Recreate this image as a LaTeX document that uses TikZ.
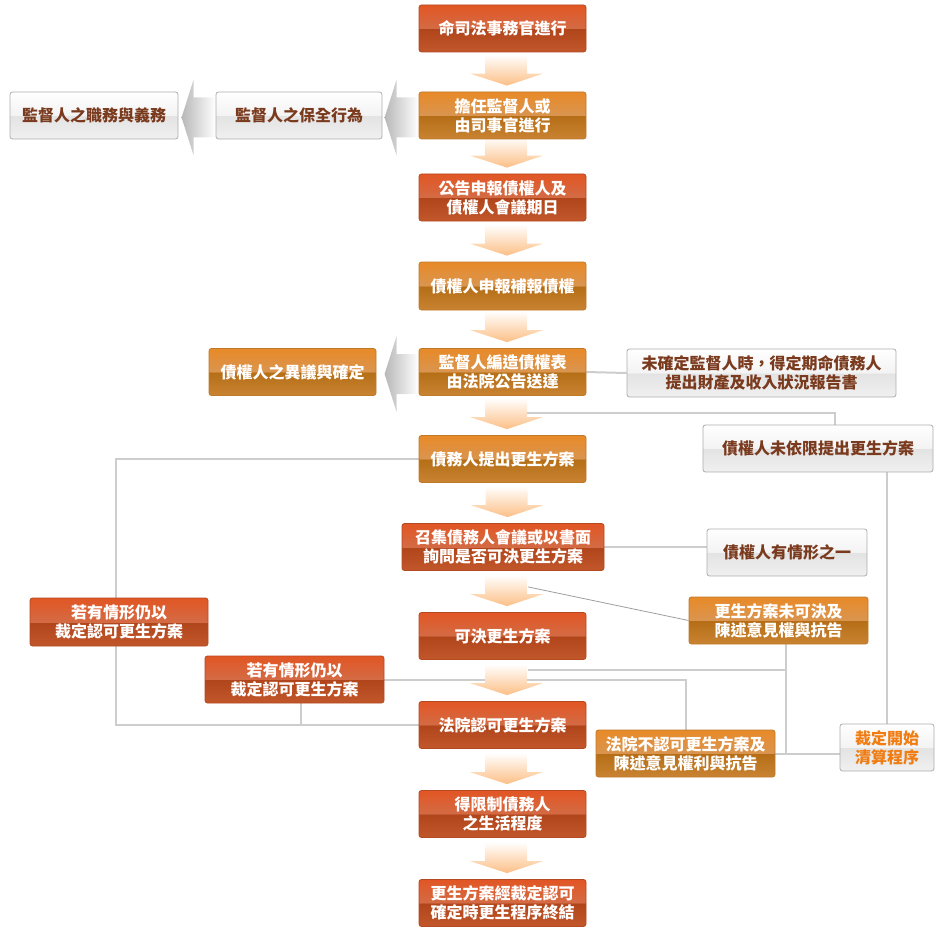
\documentclass[tikz,border=0pt]{standalone}
\usepackage{fontspec}
\newfontfamily\cjk{Noto Sans CJK TC}
\usetikzlibrary{calc, positioning}

\definecolor{redhi}{HTML}{E25624}
\definecolor{redmd}{HTML}{D36B45}
\definecolor{reddk}{HTML}{B0441A}
\definecolor{redlo}{HTML}{C2572C}
\definecolor{redbd}{HTML}{B34A22}
\definecolor{orghi}{HTML}{E88A28}
\definecolor{orgmd}{HTML}{D99550}
\definecolor{orgdk}{HTML}{B56E16}
\definecolor{orglo}{HTML}{C98332}
\definecolor{orgbd}{HTML}{BE7A2A}
\definecolor{gryhi}{HTML}{FFFFFF}
\definecolor{grymd}{HTML}{F3F3F3}
\definecolor{grydk}{HTML}{E3E3E3}
\definecolor{grylo}{HTML}{F0F0F0}
\definecolor{grybd}{HTML}{ADADAD}
\definecolor{brownt}{HTML}{7A3A1E}
\definecolor{liqt}{HTML}{F07C12}
\definecolor{linec}{HTML}{CDCDCD}
\definecolor{arrowc}{HTML}{FCBF86}

\pgfdeclareverticalshading{redgloss}{100bp}{color(0bp)=(redlo); color(25bp)=(redlo); color(49.9bp)=(reddk); color(50bp)=(redmd); color(75bp)=(redhi); color(100bp)=(redhi)}
\pgfdeclareverticalshading{orangegloss}{100bp}{color(0bp)=(orglo); color(25bp)=(orglo); color(49.9bp)=(orgdk); color(50bp)=(orgmd); color(75bp)=(orghi); color(100bp)=(orghi)}
\pgfdeclareverticalshading{graygloss}{100bp}{color(0bp)=(grylo); color(25bp)=(grylo); color(49.9bp)=(grydk); color(50bp)=(grymd); color(75bp)=(gryhi); color(100bp)=(gryhi)}

\pgfdeclarelayer{bg}
\pgfsetlayers{bg,main}

\tikzset{
  box/.style={rounded corners=2.5pt, line width=0.8pt, minimum width=167pt,
    minimum height=47pt, inner sep=0pt, align=center,
    font=\cjk\bfseries\fontsize{16}{19}\selectfont},
  redbox/.style={box, draw=redbd, shading=redgloss, text=white},
  orangebox/.style={box, draw=orgbd, shading=orangegloss, text=white},
  graybox/.style={box, draw=grybd, shading=graygloss, text=brownt},
  link/.style={draw=linec, line width=2pt},
  thinlink/.style={draw=black!38, line width=0.8pt},
  flowarrow/.style={top color=white, bottom color=arrowc},
  sidearrow/.style={left color=black!28, right color=white}
}

\begin{document}
\begin{tikzpicture}[x=1pt, y=-1pt]
  \useasboundingbox (0,0) rectangle (942,936);

  % main column
  \node[redbox] (n1) at (502.5,28.5) {命司法事務官進行};
  \node[orangebox] (n2) at (502.5,115.5) {擔任監督人或\\由司事官進行};
  \node[redbox] (n3) at (502.5,197.5) {公告申報債權人及\\債權人會議期日};
  \node[orangebox, minimum height=48pt] (n4) at (502.5,286) {債權人申報補報債權};
  \node[orangebox] (n5) at (502.5,372) {監督人編造債權表\\由法院公告送達};
  \node[orangebox] (n6) at (502.5,459) {債務人提出更生方案};
  \node[redbox, minimum width=202pt] (n7) at (503,547) {召集債務人會議或以書面\\詢問是否可決更生方案};
  \node[redbox] (n8) at (502.5,636) {可決更生方案};
  \node[redbox] (n9) at (502.5,725) {法院認可更生方案};
  \node[redbox] (n10) at (502.5,814) {得限制債務人\\之生活程度};
  \node[redbox] (n11) at (502.5,903) {更生方案經裁定認可\\確定時更生程序終結};

  % side boxes
  \node[graybox, minimum width=168pt] (duty) at (94,115.5) {監督人之職務與義務};
  \node[graybox, minimum width=166pt] (keep) at (299,115.5) {監督人之保全行為};
  \node[orangebox] (objection) at (292.5,372) {債權人之異議與確定};
  \node[graybox, minimum width=269pt, minimum height=48pt] (report) at (761.5,373) {未確定監督人時，得定期命債務人\\提出財產及收入狀況報告書};
  \node[graybox, minimum width=230pt] (nofile) at (818,448.5) {債權人未依限提出更生方案};
  \node[graybox, minimum width=160pt] (oneof) at (787,552.5) {債權人有情形之一};
  \node[orangebox, minimum width=179pt] (notpass) at (778.5,620.5) {更生方案未可決及\\陳述意見權與抗告};
  \node[redbox, minimum width=178pt, minimum height=48pt] (court1) at (119,622) {若有情形仍以\\裁定認可更生方案};
  \node[redbox, minimum width=179pt] (court2) at (294.5,679.5) {若有情形仍以\\裁定認可更生方案};
  \node[orangebox, minimum width=179pt] (reject) at (685.5,753.5) {法院不認可更生方案及\\陳述意見權利與抗告};
  \node[graybox, minimum width=94pt, text=liqt] (liquid) at (887,747.5) {裁定開始\\清算程序};

  \coordinate (s56) at ([yshift=-17pt]n5.south);
  \coordinate (s78) at ([xshift=25pt,yshift=-16pt]n7.south);
  \coordinate (s89) at ([xshift=25pt,yshift=-10pt]n8.south);
  \coordinate (drop) at ([xshift=7.5pt]notpass.south);

  \begin{pgfonlayer}{bg}
    % connectors
    \draw[link] (n5.east) -- (report.west);
    \draw[link] (s56) -| ([xshift=17pt]nofile.north);
    \draw[link] (nofile.south -| liquid.north) -- (liquid.north);
    \draw[link] (n7.east) -- (n7.east -| oneof.west);
    \draw[thinlink] (s78) -- (notpass.west);
    \draw[link] (drop) -- (drop |- reject.east);
    \draw[link] (reject.east) -- (reject.east -| liquid.west);
    \draw[link] (s89) -- (s89 -| drop);
    \draw[link] (court2.east) -| (reject.north);
    \draw[link] (n6.west) -| ([xshift=-3pt]court1.north);
    \draw[link] ([xshift=-3pt]court1.south) |- (n9.west);
    \draw[link] ([xshift=6.5pt]court2.south) -- ([xshift=6.5pt]court2.south |- n9.west);

    % block arrows down the column
    \foreach \a/\b in {n1/n2,n2/n3,n3/n4,n4/n5,n5/n6,n6/n7,n7/n8,n8/n9,n9/n10,n10/n11}
      \shade[flowarrow] let \p2=(\b.north) in
        (\x2-17.5pt,\y2+37pt) -- (\x2+24.5pt,\y2+37pt) -- (\x2+24.5pt,\y2+18pt)
        -- (\x2+40.5pt,\y2+18pt) -- (\x2+4.5pt,\y2+6pt) -- (\x2-32.5pt,\y2+18pt)
        -- (\x2-17.5pt,\y2+18pt) -- cycle;

    % block arrows to the left
    \foreach \b in {keep,n2,n5}
      \shade[sidearrow] let \p1=(\b.west) in
        (\x1-34pt,\y1-2pt) -- (\x1-22pt,\y1+36pt) -- (\x1-22pt,\y1+18pt)
        -- (\x1,\y1+18pt) -- (\x1,\y1-22pt) -- (\x1-22pt,\y1-22pt)
        -- (\x1-22pt,\y1-40pt) -- cycle;
  \end{pgfonlayer}
\end{tikzpicture}
\end{document}
